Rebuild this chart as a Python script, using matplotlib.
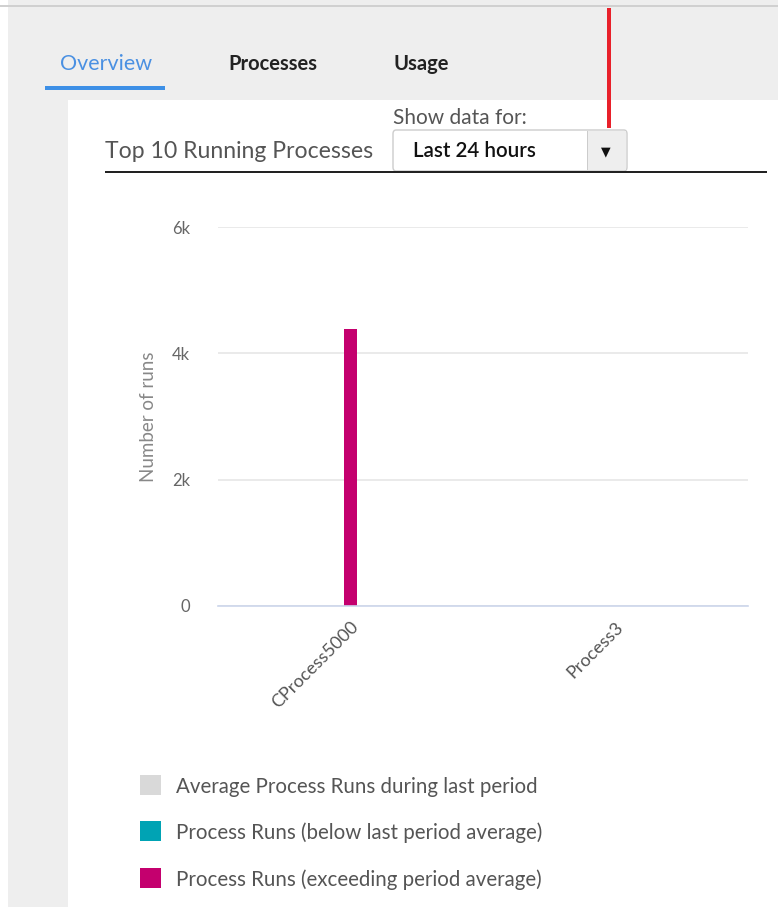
import matplotlib.pyplot as plt
from matplotlib.patches import Rectangle, FancyBboxPatch

plt.rcParams['font.family'] = ['Lato', 'DejaVu Sans']

processes = ['CProcess5000', 'Process3']
avg_runs = [0, 0]
below_runs = [0, 0]
exceed_runs = [4380, 0]

series_names = ['Average Process Runs during last period',
                'Process Runs (below last period average)',
                'Process Runs (exceeding period average)']
series_colors = ['#d9d9d9', '#00a3b4', '#c4006e']

y_ticks = [0, 2000, 4000, 6000]
y_tick_labels = ['0', '2k', '4k', '6k']

W, H = 778, 907
fig = plt.figure(figsize=(W / 100, H / 100), dpi=100)
fig.patch.set_facecolor('#eeeeee')


def px(x, y):
    return x / W, 1 - y / H


def box(x0, y0, x1, y1, **kw):
    fig.patches.append(Rectangle(px(x0, y1), (x1 - x0) / W, (y1 - y0) / H,
                                 transform=fig.transFigure, **kw))


# page pieces
box(0, 0, 8, 907, color='white', lw=0)
box(0, 5, 778, 7, color='#d0d0d0', lw=0)
box(68, 100, 778, 907, color='white', lw=0)

# tabs
fig.text(*px(60, 64), 'Overview', color='#4a90e2', fontsize=15.5, va='center')
box(45, 86, 165, 90, color='#3d8fe6', lw=0)
fig.text(*px(228, 64), 'Processes', color='#222222', fontsize=14.5, va='center',
         weight='bold')
fig.text(*px(393, 64), 'Usage', color='#222222', fontsize=14.5, va='center',
         weight='bold')

# header
fig.text(*px(105, 151), 'Top 10 Running Processes', color='#555555', fontsize=16.6,
         va='center')
fig.text(*px(393, 118), 'Show data for:', color='#555555', fontsize=15,
         va='center')
fig.patches.append(FancyBboxPatch(px(393, 171), 234 / W, 41 / H,
                                  boxstyle='round,pad=0,rounding_size=0.004',
                                  transform=fig.transFigure, fc='white',
                                  ec='#cccccc', lw=1))
box(587, 131, 626, 170, color='#eeeeee', lw=0)
box(587, 131, 588, 170, color='#cccccc', lw=0)
fig.text(*px(413, 151), 'Last 24 hours', color='#111111', fontsize=14.8,
         va='center', weight='semibold')
fig.text(*px(606, 152), '▼', color='#111111', fontsize=9, va='center',
         ha='center', family='DejaVu Sans')
box(105, 171, 767, 173, color='#222222', lw=0)

# red marker
box(607, 8, 611, 128, color='#e8202a', lw=0)

# chart
ax = fig.add_axes([218 / W, 1 - 606 / H, 530 / W, 379 / H])
ax.set_zorder(5)
ax.set_facecolor('white')
x = range(len(processes))
ax.bar(x, avg_runs, width=0.05, color=series_colors[0])
ax.bar(x, below_runs, width=0.05, color=series_colors[1])
ax.bar(x, exceed_runs, width=0.05, color=series_colors[2])
ax.set_xlim(-0.5, len(processes) - 0.5)
ax.set_ylim(0, 6000)
ax.set_yticks(y_ticks)
ax.set_yticklabels(y_tick_labels, color='#666666', fontsize=12)
ax.set_xticks(list(x))
ax.set_xticklabels(processes, rotation=45, ha='right', rotation_mode='anchor',
                   color='#555555', fontsize=13)
ax.tick_params(length=0, axis='both')
ax.tick_params(axis='y', pad=20)
ax.tick_params(axis='x', pad=9)
ax.grid(axis='y', color='#e6e6e6', lw=1.2)
ax.set_axisbelow(True)
for s in ['top', 'right', 'left']:
    ax.spines[s].set_visible(False)
ax.spines['bottom'].set_color('#ccd6eb')
ax.spines['bottom'].set_linewidth(1.2)
ax.set_ylabel('Number of runs', color='#888888', fontsize=13.5, labelpad=11)

# legend
legend_y = [785, 831, 878]
for name, col, ly in zip(series_names, series_colors, legend_y):
    box(140, ly - 10, 161, ly + 10, color=col, lw=0)
    fig.text(*px(176, ly + 2), name, color='#555555', fontsize=14.8, va='center')

fig.savefig('out.png', dpi=100, facecolor=fig.get_facecolor())
